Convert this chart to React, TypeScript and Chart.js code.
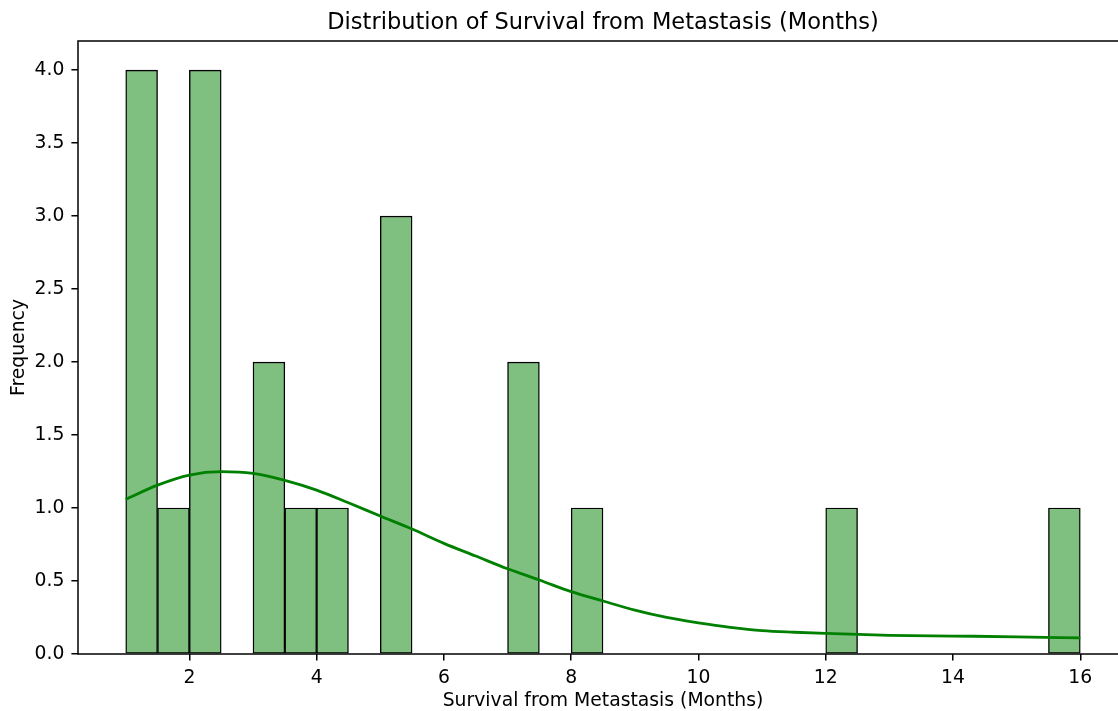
import React, { useEffect, useRef } from "react";
import { Chart, registerables } from "chart.js";

Chart.register(...registerables);

// Histogram bins (left edges, months) and counts
const binWidth = 0.5;
const binLeftEdges = [
  1, 1.5, 2, 2.5, 3, 3.5, 4, 4.5, 5, 5.5,
  6, 6.5, 7, 7.5, 8, 8.5, 9, 9.5, 10, 10.5,
  11, 11.5, 12, 12.5, 13, 13.5, 14, 14.5, 15, 15.5,
];
const binCounts = [
  4, 1, 4, 0, 2, 1, 1, 0, 3, 0,
  0, 0, 2, 0, 1, 0, 0, 0, 0, 0,
  0, 0, 1, 0, 0, 0, 0, 0, 0, 1,
];

// KDE curve (scaled to counts)
const kdeX = [
  1, 1.5, 2, 2.5, 3, 3.5, 4, 4.5, 5, 5.5, 6, 6.5, 7, 7.5, 8, 8.5,
  9, 9.5, 10, 10.5, 11, 11.5, 12, 13, 14, 15, 16,
];
const kdeY = [
  1.06, 1.157, 1.226, 1.249, 1.237, 1.19, 1.123, 1.036, 0.945, 0.856,
  0.758, 0.671, 0.584, 0.507, 0.427, 0.363, 0.301, 0.251, 0.214, 0.183,
  0.16, 0.149, 0.141, 0.128, 0.123, 0.118, 0.11,
];

const xTicks = [2, 4, 6, 8, 10, 12, 14, 16];
const yTicks = [0, 0.5, 1, 1.5, 2, 2.5, 3, 3.5, 4];

const titleText = "Distribution of Survival from Metastasis (Months)";
const xTitle = "Survival from Metastasis (Months)";
const yTitle = "Frequency";

const FONT = "'DejaVu Sans', sans-serif";
const LABEL_SIZE = 18.8;
const TITLE_SIZE = 22.5;

const spinePlugin = {
  id: "spines",
  afterDatasetsDraw(chart: any) {
    const { ctx, chartArea } = chart;
    ctx.save();
    ctx.strokeStyle = "#000";
    ctx.lineWidth = 1.5;
    ctx.strokeRect(chartArea.left, chartArea.top, chartArea.right - chartArea.left, chartArea.bottom - chartArea.top);
    ctx.restore();
  },
};

export default function App() {
  const ref = useRef<HTMLCanvasElement | null>(null);

  useEffect(() => {
    if (!ref.current) return;
    const barData = binLeftEdges.map((e, i) => ({ x: e + binWidth / 2, y: binCounts[i] }));
    const lineData = kdeX.map((x, i) => ({ x, y: kdeY[i] }));
    const chart = new Chart(ref.current, {
      type: "bar",
      data: {
        datasets: [
          {
            type: "line",
            data: lineData,
            borderColor: "#008000",
            borderWidth: 2.8,
            pointRadius: 0,
            fill: false,
            cubicInterpolationMode: "monotone",
            order: 0,
          } as any,
          {
            type: "bar",
            data: barData,
            backgroundColor: "#7fbf7f",
            borderColor: "#000",
            borderWidth: 1.4,
            borderSkipped: false,
            barPercentage: 1,
            categoryPercentage: 1,
            order: 1,
          } as any,
        ],
      },
      options: {
        animation: false,
        responsive: false,
        devicePixelRatio: 1,
        layout: { padding: { left: 0, right: 12, top: 0, bottom: 0 } },
        plugins: {
          legend: { display: false },
          tooltip: { enabled: false },
          title: {
            display: true,
            text: titleText,
            color: "#000",
            fullSize: false,
            font: { family: FONT, size: TITLE_SIZE, weight: "normal" },
            padding: { top: 10, bottom: 4 },
          },
        },
        scales: {
          x: {
            type: "linear",
            min: 0.25,
            max: 16.75,
            offset: false,
            afterBuildTicks: (s: any) => {
              s.ticks = xTicks.map((v) => ({ value: v }));
            },
            afterFit: (s: any) => {
              s.height = 57;
            },
            ticks: {
              color: "#000",
              font: { family: FONT, size: LABEL_SIZE },
              padding: 6,
              maxRotation: 0,
              autoSkip: false,
              callback: (v: any) => String(v),
            },
            grid: {
              display: true,
              drawOnChartArea: false,
              drawTicks: true,
              tickLength: 6.6,
              color: "#000",
              lineWidth: 1.5,
              offset: false,
            },
            border: { display: false },
            title: {
              display: true,
              text: xTitle,
              color: "#000",
              font: { family: FONT, size: LABEL_SIZE },
              padding: { top: 0, bottom: -1.5 },
            },
          },
          y: {
            type: "linear",
            min: 0,
            max: 4.2,
            afterBuildTicks: (s: any) => {
              s.ticks = yTicks.map((v) => ({ value: v }));
            },
            afterFit: (s: any) => {
              s.width = 78;
            },
            ticks: {
              color: "#000",
              font: { family: FONT, size: LABEL_SIZE },
              padding: 7,
              autoSkip: false,
              callback: (v: any) => Number(v).toFixed(1),
            },
            grid: {
              display: true,
              drawOnChartArea: false,
              drawTicks: true,
              tickLength: 6.6,
              color: "#000",
              lineWidth: 1.5,
            },
            border: { display: false },
            title: {
              display: true,
              text: yTitle,
              color: "#000",
              font: { family: FONT, size: LABEL_SIZE },
              padding: { top: 8, bottom: 0 },
            },
          },
        },
      } as any,
      plugins: [spinePlugin],
    });
    return () => chart.destroy();
  }, []);

  return (
    <div
      style={{
        position: "absolute",
        left: 0,
        top: 0,
        width: 1118,
        height: 711,
        overflow: "hidden",
        background: "#fff",
      }}
    >
      <canvas ref={ref} width={1140} height={711} style={{ display: "block" }} />
    </div>
  );
}
